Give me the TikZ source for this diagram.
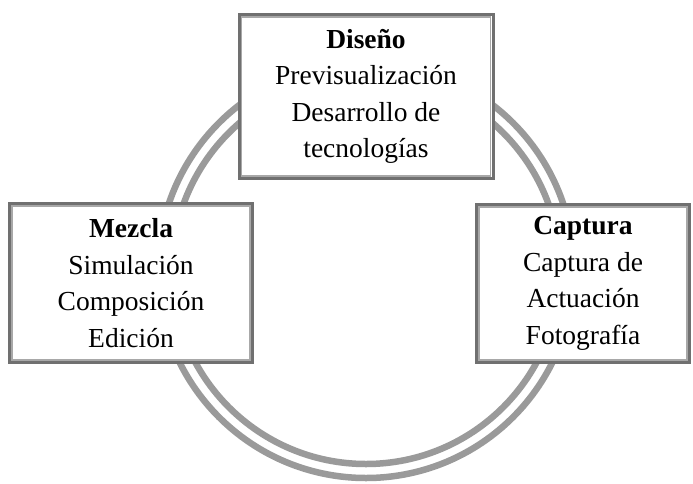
\documentclass[tikz,border=0pt]{standalone}
\usepackage{fontspec}
\setmainfont{Liberation Serif}
\usetikzlibrary{positioning}
\definecolor{ringgray}{HTML}{9A9A9A}
\definecolor{boxdark}{HTML}{707070}
\definecolor{boxlight}{HTML}{A8A8A8}
\tikzstyle{ring}=[draw=ringgray, line width=6.5pt]
\tikzstyle{stage}=[draw=boxdark, line width=3pt, fill=white, align=center,
               inner sep=0pt, font=\fontsize{27.5}{36.5}\selectfont]
\tikzstyle{inner frame}=[draw=boxlight, line width=1.3pt]

\begin{document}
\begin{tikzpicture}[x=1pt,y=-1pt]
        \useasboundingbox (0,0) rectangle (693,483);
        % ciclo
        \coordinate (centro) at (366,270);
        \draw[ring] (centro) circle (208pt);
        \draw[ring] (centro) circle (194pt);
        % etapas
        \node[stage, minimum width=254pt, minimum height=164pt] (disenio) at (366,96.5)
            {\textbf{Diseño}\\Previsualización\\Desarrollo de\\tecnologías};
        \node[stage, minimum width=243pt, minimum height=159pt] (mezcla) at (131,283)
            {\textbf{Mezcla}\\Simulación\\Composición\\Edición};
        \node[stage, minimum width=213pt, minimum height=158pt] (captura) at (583,283.5)
            {\textbf{Captura}\\Captura de\\Actuación\\Fotografía};
        \foreach \n in {disenio,mezcla,captura}
            \draw[inner frame] ([xshift=4pt,yshift=-4pt]\n.north west) rectangle ([xshift=-4pt,yshift=4pt]\n.south east);
    \end{tikzpicture}
\end{document}
